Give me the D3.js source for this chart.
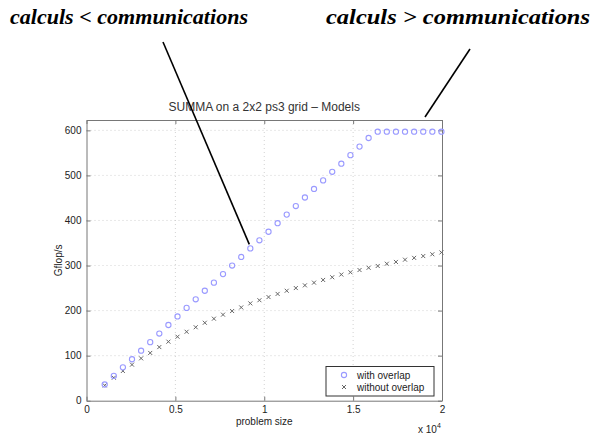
<!DOCTYPE html>
<html>
<head>
<meta charset="utf-8">
<script src="https://cdn.jsdelivr.net/npm/d3@7"></script>
<style>
  html, body { margin: 0; padding: 0; background: #fff; }
  svg { display: block; }
</style>
</head>
<body>
<svg id="chart" width="604" height="434"></svg>
<script>
// ---- data ----
const problemSize = [1024, 1536, 2048, 2560, 3072, 3584, 4096, 4608, 5120, 5632,
  6144, 6656, 7168, 7680, 8192, 8704, 9216, 9728, 10240, 10752,
  11264, 11776, 12288, 12800, 13312, 13824, 14336, 14848, 15360, 15872,
  16384, 16896, 17408, 17920, 18432, 18944, 19456, 19968];
const withOverlap = [36, 55, 74, 92, 111, 130, 149, 168, 187, 206,
  225, 244, 262, 281, 300, 319, 338, 356, 375, 394,
  413, 432, 451, 470, 489, 508, 526, 545, 564, 583,
  597, 597, 597, 597, 597, 597, 597, 597];
const withoutOverlap = [34, 51, 66, 80, 94, 106, 119, 131, 142, 153,
  163, 173, 182, 191, 199, 207, 216, 223, 230, 237,
  244, 250, 256, 262, 268, 274, 280, 285, 290, 295,
  299, 304, 308, 313, 317, 321, 325, 329];
const xTicks = [0, 5000, 10000, 15000, 20000];
const yTicks = [0, 100, 200, 300, 400, 500, 600];
const seriesNames = ["with overlap", "without overlap"];
const titleText = "SUMMA on a 2x2 ps3 grid \u2013 Models";
const xLabelText = "problem size";
const yLabelText = "Gflop/s";
const annotations = ["calculs < communications", "calculs > communications"];

// ---- layout ----
const svg = d3.select("#chart");
const L = 86.5, R = 442, T = 120, B = 400.7;
const x = d3.scaleLinear().domain([0, 20000]).range([L, R]);
const y = d3.scaleLinear().domain([0, 623]).range([B, T]);
const sans = "'Liberation Sans', Arial, Helvetica, sans-serif";
const txt = "#222";

// grid
const grid = svg.append("g").attr("stroke", "#c8c8c8").attr("stroke-width", 0.8)
  .attr("stroke-dasharray", "1,3");
grid.selectAll("line.gx").data(xTicks.slice(1, -1)).join("line")
  .attr("x1", d => x(d)).attr("x2", d => x(d)).attr("y1", T).attr("y2", B);
grid.selectAll("line.gy").data(yTicks.slice(1)).join("line")
  .attr("x1", L).attr("x2", R).attr("y1", d => y(d)).attr("y2", d => y(d));

// axes (box with inner ticks)
const fmtX = d => d3.format("")(d / 10000);
const axB = d3.axisBottom(x).tickValues(xTicks).tickSizeInner(-4).tickSizeOuter(0).tickPadding(5).tickFormat(fmtX);
const axT = d3.axisTop(x).tickValues(xTicks).tickSizeInner(-4).tickSizeOuter(0).tickFormat("");
const axL = d3.axisLeft(y).tickValues(yTicks).tickSizeInner(-4).tickSizeOuter(0).tickPadding(5);
const axR = d3.axisRight(y).tickValues(yTicks).tickSizeInner(-4).tickSizeOuter(0).tickFormat("");
function style(g) {
  g.selectAll("path").attr("stroke", "#777");
  g.selectAll("line").attr("stroke", "#777");
  g.selectAll("text").attr("fill", txt).style("font-family", sans).style("font-size", "10px");
}
svg.append("g").attr("transform", `translate(0,${B})`).call(axB).call(style);
svg.append("g").attr("transform", `translate(0,${T})`).call(axT).call(style);
svg.append("g").attr("transform", `translate(${L},0)`).call(axL).call(style);
svg.append("g").attr("transform", `translate(${R},0)`).call(axR).call(style);

// data: without overlap (x markers)
const crossSize = 2;
svg.append("g").attr("stroke", "#666").attr("stroke-width", 1)
  .selectAll("path").data(problemSize).join("path")
  .attr("d", (d, i) => {
    const cx = x(d), cy = y(withoutOverlap[i]);
    return `M${cx - crossSize},${cy - crossSize}L${cx + crossSize},${cy + crossSize}M${cx - crossSize},${cy + crossSize}L${cx + crossSize},${cy - crossSize}`;
  });
// data: with overlap (circles)
svg.append("g").attr("fill", "none").attr("stroke", "#9a9aff").attr("stroke-width", 1.1)
  .selectAll("circle").data(problemSize).join("circle")
  .attr("cx", d => x(d)).attr("cy", (d, i) => y(withOverlap[i])).attr("r", 2.6);

// title & labels
svg.append("text").attr("x", (L + R) / 2).attr("y", 111).attr("text-anchor", "middle")
  .attr("fill", "#333").style("font-family", sans).style("font-size", "12px").text(titleText);
svg.append("text").attr("x", (L + R) / 2).attr("y", 425).attr("text-anchor", "middle")
  .attr("fill", txt).style("font-family", sans).style("font-size", "10px").text(xLabelText);
svg.append("text").attr("transform", `translate(62,${(T + B) / 2}) rotate(-90)`).attr("text-anchor", "middle")
  .attr("fill", txt).style("font-family", sans).style("font-size", "10px").text(yLabelText);
const ex = svg.append("text").attr("x", 418).attr("y", 433).attr("fill", txt)
  .style("font-family", sans).style("font-size", "10px");
ex.append("tspan").text("x 10");
ex.append("tspan").attr("dy", -5).style("font-size", "7px").text("4");

// legend
const lg = svg.append("g");
lg.append("rect").attr("x", 326).attr("y", 366.5).attr("width", 108).attr("height", 29.5)
  .attr("fill", "#fff").attr("stroke", "#333").attr("stroke-width", 1);
lg.append("circle").attr("cx", 344).attr("cy", 375).attr("r", 2.6).attr("fill", "none")
  .attr("stroke", "#9a9aff").attr("stroke-width", 1.1);
lg.append("path").attr("d", `M${342},${385}L${346},${389}M${342},${389}L${346},${385}`)
  .attr("stroke", "#666").attr("stroke-width", 1);
lg.selectAll("text").data(seriesNames).join("text")
  .attr("x", 357).attr("y", (d, i) => 378.5 + i * 12)
  .attr("fill", txt).style("font-family", sans).style("font-size", "10px").text(d => d);

// annotations
const serif = "'Liberation Serif', 'Times New Roman', serif";
svg.append("text").attr("x", 10).attr("y", 24).attr("fill", "#000")
  .style("font-family", serif).style("font-weight", "bold").style("font-style", "italic")
  .style("font-size", "21px").attr("textLength", 238).attr("lengthAdjust", "spacingAndGlyphs")
  .text(annotations[0]);
svg.append("text").attr("x", 326).attr("y", 24).attr("fill", "#000")
  .style("font-family", serif).style("font-weight", "bold").style("font-style", "italic")
  .style("font-size", "21px").attr("textLength", 264).attr("lengthAdjust", "spacingAndGlyphs")
  .text(annotations[1]);
svg.append("line").attr("x1", 163).attr("y1", 42).attr("x2", x(9216) - 1).attr("y2", y(338) - 4)
  .attr("stroke", "#000").attr("stroke-width", 1.6);
svg.append("line").attr("x1", 470).attr("y1", 49).attr("x2", 425).attr("y2", 117)
  .attr("stroke", "#000").attr("stroke-width", 1.6);
</script>
</body>
</html>
